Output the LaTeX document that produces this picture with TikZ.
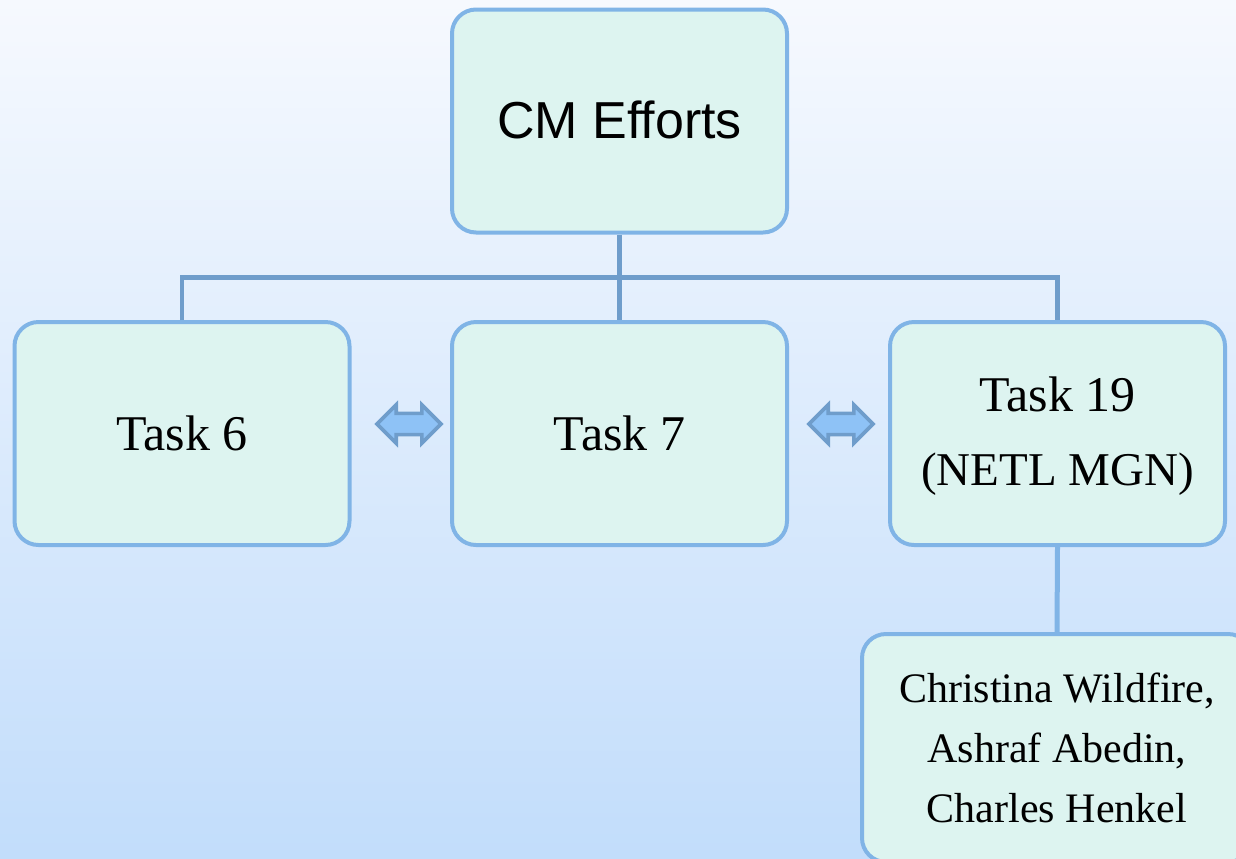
\documentclass[tikz,border=0pt]{standalone}
\usepackage{fontspec}
\setmainfont{Liberation Serif}
\newfontfamily\headfont{Liberation Sans}
\usetikzlibrary{shapes.arrows,calc}
\definecolor{boxfill}{HTML}{DDF4F0}
\definecolor{boxedge}{HTML}{80B4E6}
\definecolor{linkcol}{HTML}{6F9DCB}
\definecolor{arrowfill}{HTML}{8EC2F6}
\definecolor{bgtop}{HTML}{F6F9FE}
\definecolor{bgbot}{HTML}{C2DDFB}
\begin{document}
\begin{tikzpicture}[x=0.5pt,y=-0.5pt,
  card/.style={draw=boxedge, fill=boxfill, line width=2pt, rounded corners=12pt,
    minimum width=167.5pt, minimum height=111.5pt, inner sep=0pt, align=center},
  tasktext/.style={font=\fontsize{25}{37}\selectfont},
  link/.style={draw=linkcol, line width=2.3pt},
  sublink/.style={draw=boxedge, line width=2.5pt},
  dblarrow/.style={double arrow, draw=linkcol, fill=arrowfill, line width=1.8pt,
    minimum height=32pt, minimum width=0pt, double arrow head extend=4.3pt,
    inner xsep=0pt, inner ysep=4.4pt, text height=0pt, text depth=0pt}
]
% page and backdrop
\useasboundingbox (0,0) rectangle (1236,858);
\clip (0,0) rectangle (1236,858);
\shade[top color=bgtop, bottom color=bgbot] (0,0) rectangle (1236,858);

% boxes
\node[card, font=\headfont\fontsize{26}{31}\selectfont] (cm) at (619.5,121)
      {\raisebox{1.5pt}{CM Efforts}};
\node[card, tasktext] (t6) at (182,433.5) {Task 6};
\node[card, tasktext] (t7) at (619.5,433.5) {Task 7};
\node[card, tasktext] (t19) at (1057.5,433.5)
      {\raisebox{-2pt}{\begin{tabular}{@{}c@{}}Task 19\\\fontsize{23.5}{37}\selectfont(NETL MGN)\end{tabular}}};
\node[card, minimum width=195pt, minimum height=114pt,
      font=\fontsize{21}{30}\selectfont] (team) at (1057,748)
      {Christina Wildfire,\\Ashraf Abedin,\\Charles Henkel};

% tree connectors
\coordinate (bus) at ($(cm.south)!0.5!(t7.north)$);
\draw[link] (cm.south) -- (t7.north);
\draw[link] (t6.north) |- (bus) -| (t19.north);
\draw[sublink] (t19.south) -- (team.north);

% two-way links between tasks
\node[dblarrow] (a67) at (409,424) {};
\node[dblarrow] (a719) at (841,424) {};
\end{tikzpicture}
\end{document}
